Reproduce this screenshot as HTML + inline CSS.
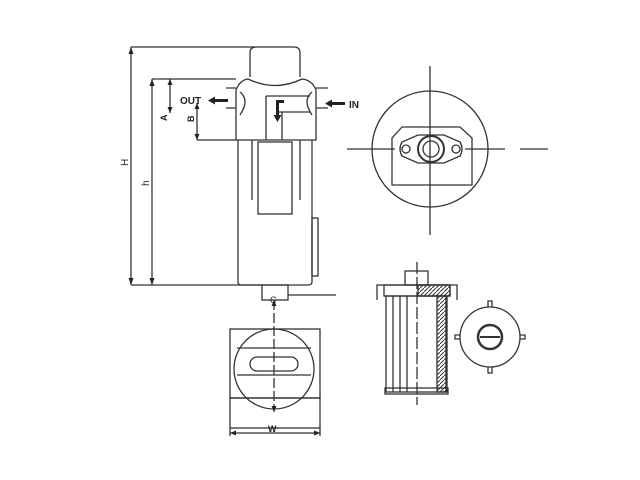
<!DOCTYPE html>
<html><head><style>body{margin:0;background:#fff}svg{display:block}</style></head><body>
<svg width="640" height="480" viewBox="0 0 640 480" xmlns="http://www.w3.org/2000/svg" font-family="Liberation Sans, sans-serif">
<defs><pattern id="h" width="4" height="4" patternUnits="userSpaceOnUse"><path d="M0,4L4,0" stroke="#333" stroke-width="1"/></pattern></defs>
<g fill="none" stroke="#333" stroke-width="1.3">
<!-- dims -->
<line x1="131" y1="47" x2="131" y2="285"/>
<line x1="131" y1="47" x2="255" y2="47"/>
<line x1="152" y1="79" x2="152" y2="285"/>
<line x1="152" y1="79" x2="236" y2="79"/>
<line x1="131" y1="285" x2="262" y2="285"/>
<line x1="170" y1="79" x2="170" y2="113"/>
<line x1="197" y1="103" x2="197" y2="140"/>
<line x1="197" y1="140" x2="236" y2="140"/>
<!-- cap -->
<path d="M250,77 L250,53 Q250,47 256,47 L294,47 Q300,47 300,53 L300,77"/>
<!-- head -->
<path d="M236,140 L236,90 Q240,80 248,79 Q275,92 302,79 Q312,80 316,90 L316,140 Z"/>
<path d="M236,88 L226,88 M236,108 L226,108 M316,88 L328,88 M316,108 L328,108"/>
<path d="M240,92 Q250,100 240,115 M312,92 Q302,100 312,115"/>
<line x1="266" y1="96" x2="266" y2="140"/><line x1="282" y1="112" x2="282" y2="140"/>
<line x1="266" y1="96" x2="310" y2="96"/><line x1="278" y1="112" x2="310" y2="112"/>
<!-- bowl -->
<path d="M238,140 L238,282 Q238,285 242,285 L308,285 Q312,285 312,282 L312,140"/>
<rect x="258" y="142" width="34" height="72"/>
<line x1="252" y1="140" x2="252" y2="200"/><line x1="300" y1="140" x2="300" y2="200"/>
<rect x="312" y="218" width="6" height="58"/>
<rect x="262" y="285" width="26" height="15"/>
<line x1="288" y1="295" x2="336" y2="295"/>
<!-- bottom view -->
<line x1="274" y1="300" x2="274" y2="412" stroke-dasharray="10,3"/>
<rect x="230" y="329" width="90" height="69"/>
<rect x="230" y="398" width="90" height="30"/>
<circle cx="274" cy="369" r="40"/>
<line x1="237" y1="348" x2="311" y2="348"/><line x1="237" y1="375" x2="311" y2="375"/>
<rect x="250" y="357" width="48" height="14" rx="7"/>
<line x1="230" y1="433" x2="320" y2="433"/>
<line x1="230" y1="428" x2="230" y2="436"/><line x1="320" y1="428" x2="320" y2="436"/>
<!-- top right view -->
<circle cx="430" cy="149" r="58"/>
<line x1="347" y1="149" x2="395" y2="149"/><line x1="465" y1="149" x2="505" y2="149"/><line x1="520" y1="149" x2="548" y2="149"/>
<line x1="430" y1="66" x2="430" y2="235"/>
<path d="M392,185 L392,138 L402,127 L460,127 L472,138 L472,185 Z"/>
<path d="M402,142 Q398,149 402,156 L418,163 L444,163 L460,156 Q464,149 460,142 L444,135 L418,135 Z"/>
<circle cx="406" cy="149" r="4"/><circle cx="456" cy="149" r="4"/>
<circle cx="431" cy="149" r="13" stroke-width="2"/><circle cx="431" cy="149" r="8"/>
<!-- filter element -->
<line x1="417" y1="262" x2="417" y2="405" stroke-dasharray="12,3"/>
<rect x="405" y="271" width="23" height="14"/>
<path d="M377,300 L377,285 L457,285 L457,300"/>
<rect x="384" y="285" width="66" height="11"/>
<rect x="386" y="296" width="61" height="96"/>
<rect x="418" y="285" width="32" height="11" fill="url(#h)"/>
<rect x="437" y="296" width="9" height="96" fill="url(#h)"/>
<line x1="393" y1="296" x2="393" y2="392"/><line x1="400" y1="296" x2="400" y2="392"/><line x1="407" y1="296" x2="407" y2="392"/>
<rect x="385" y="388" width="63" height="6"/>
<!-- small circle -->
<circle cx="490" cy="337" r="30"/>
<circle cx="490" cy="337" r="12" stroke-width="2.5"/><line x1="480" y1="337" x2="500" y2="337" stroke-width="2"/>
<path d="M488,307 V301 H492 V307 M488,367 V373 H492 V367 M460,335 H455 V339 H460 M520,335 H525 V339 H520"/>
</g>
<g fill="#222">
<path d="M131,47 l-2.5,7 h5z M131,285 l-2.5,-7 h5z M152,79 l-2.5,7 h5z M152,285 l-2.5,-7 h5z M170,79 l-2.5,6 h5z M170,113 l-2.5,-6 h5z M197,103 l-2.5,6 h5z M197,140 l-2.5,-6 h5z"/>
<path d="M230,433 l6,-2.5 v5z M320,433 l-6,-2.5 v5z M274,300 l-2.5,6 h5z M274,412 l-2.5,-6 h5z"/>
<rect x="214" y="99" width="14" height="3"/><path d="M208,100.5 l7,-4 v8z"/>
<rect x="332" y="102" width="13" height="3"/><path d="M325,103.5 l7,-4 v8z"/>
<rect x="276" y="100" width="3" height="16"/><rect x="276" y="100" width="8" height="3"/><path d="M277.5,122 l-4,-7 h8z"/>
</g>
<g font-size="10" font-weight="bold" fill="#222">
<text x="180" y="104">OUT</text>
<text x="349" y="108">IN</text>
<text x="268" y="432" font-size="9">W</text>
<text transform="translate(128,166) rotate(-90)" font-weight="normal">H</text>
<text transform="translate(149,186) rotate(-90)" font-weight="normal">h</text>
<text transform="translate(167,121) rotate(-90)" font-size="9">A</text>
<text transform="translate(194,122) rotate(-90)" font-size="9">B</text>
<text x="270" y="303" font-size="9" font-weight="normal">C</text>
</g>
</svg>
</body></html>
